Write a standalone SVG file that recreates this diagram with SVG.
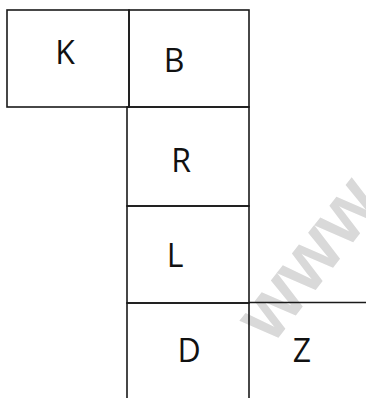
<svg xmlns="http://www.w3.org/2000/svg" width="366" height="398" viewBox="0 0 366 398">
<style>
.box{fill:none;stroke:#1a1a1a;stroke-width:1.6}
.lbl{font-family:"Open Sans","Liberation Sans",sans-serif;font-size:32px;fill:#111;text-anchor:middle}
</style>
<rect width="366" height="398" fill="#fff"/>
<g id="watermark"><text x="272" y="346" transform="rotate(-52 272 346)" font-family="Liberation Sans, sans-serif" font-weight="bold" font-size="78" fill="#d9d9d9">www</text></g>
<g id="K"><rect class="box" x="7" y="10" width="122" height="97"/><text class="lbl" x="65" y="64">K</text></g>
<g id="B"><rect class="box" x="129" y="10" width="120" height="97"/><text class="lbl" x="174" y="72">B</text></g>
<g id="R"><rect class="box" x="127" y="107" width="122" height="99"/><text class="lbl" x="181" y="172">R</text></g>
<g id="L"><rect class="box" x="127" y="206" width="122" height="97"/><text class="lbl" x="175" y="267">L</text></g>
<g id="D"><rect class="box" x="127" y="303" width="122" height="100"/><text class="lbl" x="189" y="362">D</text></g>
<g id="Z"><text class="lbl" x="302" y="362">Z</text></g>
<g id="connectors"><line class="box" x1="249" y1="302.5" x2="366" y2="302.5"/></g>
</svg>
